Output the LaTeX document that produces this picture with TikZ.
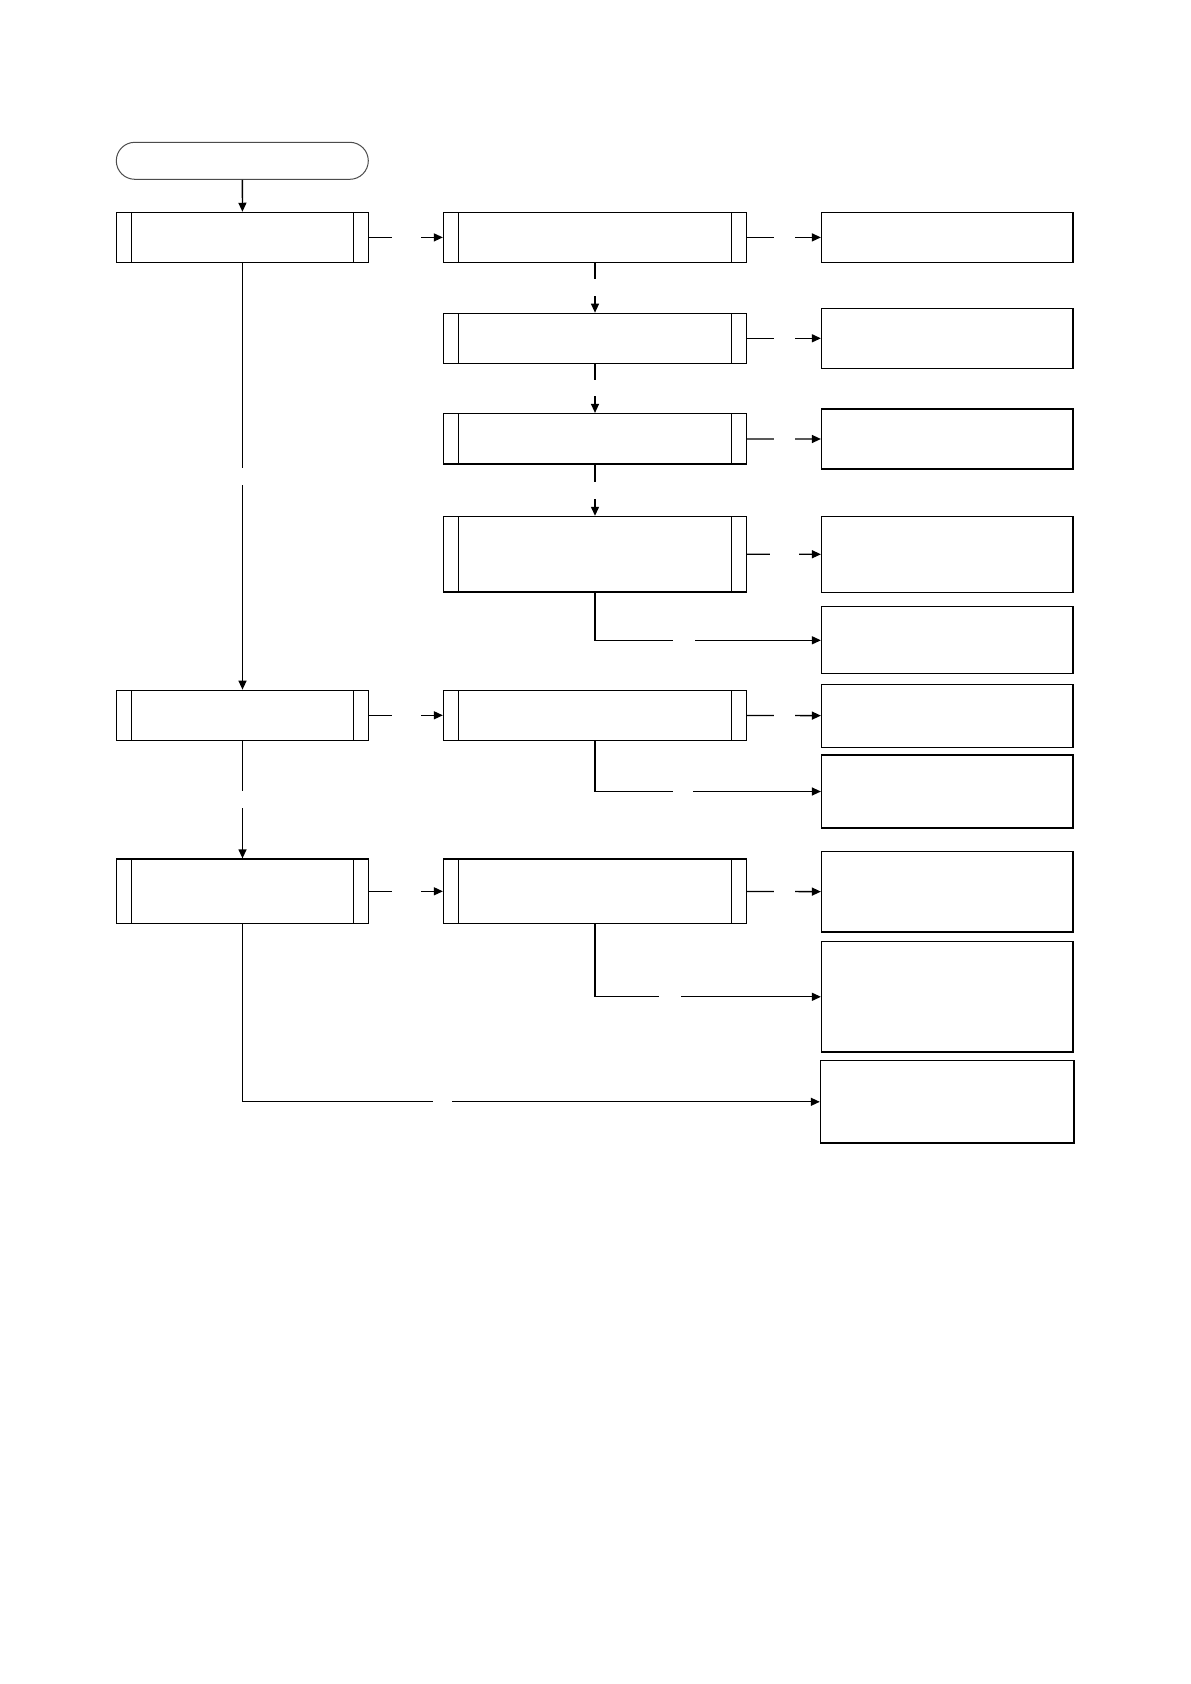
\documentclass[tikz,border=0pt]{standalone}
\usetikzlibrary{arrows.meta,shapes.misc}
\begin{document}
\begin{tikzpicture}[x=1pt,y=-1pt,
  line width=1.3pt,
  base/.style={draw, rectangle, inner sep=0pt},
  predef/.style={base, minimum width=#1,
    path picture={
      \draw[line width=1.3pt] ([xshift=15pt]path picture bounding box.north west) -- ([xshift=15pt]path picture bounding box.south west);
      \draw[line width=1.3pt] ([xshift=-15pt]path picture bounding box.north east) -- ([xshift=-15pt]path picture bounding box.south east);}},
  abox/.style={predef=252pt},
  bbox/.style={predef=303pt},
  cbox/.style={base, minimum width=251.5pt},
  term/.style={draw=black!70, line width=1pt, rounded rectangle, inner sep=0pt, minimum width=252pt, minimum height=37pt},
  arr/.style={-{Triangle[length=9pt,width=8pt]}},
  hgap/.style={fill=white, inner sep=0pt, minimum width=#1, minimum height=5pt},
  vgap/.style={fill=white, inner sep=0pt, minimum height=#1, minimum width=5pt}
]
\useasboundingbox[fill=white] (0,0) rectangle (1191,1684);

\node[term] (start) at (242.3,160.8) {};
\node[abox, minimum height=50pt] (A1) at (242.5,237.4) {};
\node[abox, minimum height=50pt] (A2) at (242.5,715.3) {};
\node[abox, minimum height=64.6pt] (A3) at (242.5,891.3) {};

\node[bbox, minimum height=50pt] (B1) at (595,237.4) {};
\node[bbox, minimum height=50pt] (B2) at (595,338.3) {};
\node[bbox, minimum height=50.5pt] (B3) at (595,438.8) {};
\node[bbox, minimum height=75.5pt] (B4) at (595,554.2) {};
\node[bbox, minimum height=50pt] (B5) at (595,715.3) {};
\node[bbox, minimum height=64.6pt] (B6) at (595,891.3) {};

\node[cbox, minimum height=50pt] (C1) at (947.3,237.4) {};
\node[cbox, minimum height=60pt] (C2) at (947.3,338.3) {};
\node[cbox, minimum height=60pt] (C3) at (947.3,439.1) {};
\node[cbox, minimum height=76pt] (C4) at (947.3,554.3) {};
\node[cbox, minimum height=67pt] (C5) at (947.3,640.3) {};
\node[cbox, minimum height=63pt] (C6) at (947.3,715.8) {};
\node[cbox, minimum height=73pt] (C7) at (947.3,791.5) {};
\node[cbox, minimum height=80.4pt] (C8) at (947.3,891.8) {};
\node[cbox, minimum height=110.6pt] (C9) at (947.3,996.8) {};
\node[base, minimum width=253.5pt, minimum height=82.6pt] (C10) at (947.2,1101.8) {};

% main column
\draw[arr] (start) -- (A1);
\draw[arr] (A1) -- node[vgap=17pt]{} (A2);
\draw[arr] (A2) -- node[vgap=17.6pt]{} (A3);
\draw[arr] (A3.south) |- node[hgap=19pt, pos=0.673]{} (C10.west);

% A to B
\draw[arr] (A1) -- node[hgap=29pt]{} (B1);
\draw[arr] (A2) -- node[hgap=29pt]{} (B5);
\draw[arr] (A3) -- node[hgap=29pt]{} (B6);

% B chain
\draw[arr] (B1) -- node[vgap=17pt]{} (B2);
\draw[arr] (B2) -- node[vgap=16pt]{} (B3);
\draw[arr] (B3) -- node[vgap=17pt]{} (B4);

% B to C
\draw[arr] (B1) -- node[hgap=21pt]{} (C1);
\draw[arr] (B2) -- node[hgap=21pt]{} (C2);
\draw[arr] (B3) -- node[hgap=21pt]{} (C3);
\draw[arr] (B4) -- node[hgap=29pt]{} (C4);
\draw[arr] (B5) -- node[hgap=21pt]{} (C6);
\draw[arr] (B6) -- node[hgap=21pt]{} (C8);

% elbows
\draw[arr] (B4.south) |- node[hgap=22pt, pos=0.697]{} (C5.west);
\draw[arr] (B5.south) |- node[hgap=20pt, pos=0.695]{} (C7.west);
\draw[arr] (B6.south) |- node[hgap=22pt, pos=0.666]{} (C9.west);
\end{tikzpicture}
\end{document}
